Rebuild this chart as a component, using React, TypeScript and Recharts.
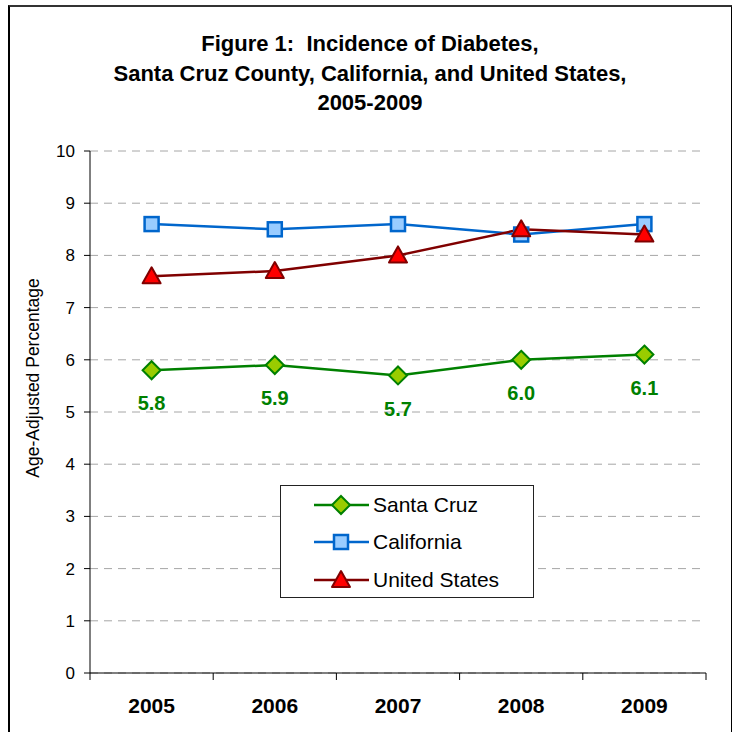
import { CartesianGrid, LabelList, Line, LineChart, XAxis, YAxis } from 'recharts';

const years = ['2005', '2006', '2007', '2008', '2009'];
const santaCruz = [5.8, 5.9, 5.7, 6.0, 6.1];
const california = [8.6, 8.5, 8.6, 8.4, 8.6];
const unitedStates = [7.6, 7.7, 8.0, 8.5, 8.4];
const yTicks = [0, 1, 2, 3, 4, 5, 6, 7, 8, 9, 10];

const data = years.map((year, i) => ({
  year,
  santaCruz: santaCruz[i],
  california: california[i],
  unitedStates: unitedStates[i],
}));

const FONT = "Arial, 'Liberation Sans', sans-serif";
const PLOT_W = 616;
const HALF = PLOT_W / years.length / 2;

const Diamond = ({ cx, cy }: any) => (
  <polygon
    points={`${cx},${cy - 9} ${cx + 9},${cy} ${cx},${cy + 9} ${cx - 9},${cy}`}
    fill="#99cc00"
    stroke="#008000"
    strokeWidth={2}
  />
);

const Square = ({ cx, cy }: any) => (
  <rect x={cx - 7} y={cy - 7} width={14} height={14} fill="#99ccff" stroke="#0066cc" strokeWidth={2.5} />
);

const Triangle = ({ cx, cy }: any) => (
  <polygon
    points={`${cx},${cy - 9} ${cx + 9},${cy + 7} ${cx - 9},${cy + 7}`}
    fill="#ff0000"
    stroke="#800000"
    strokeWidth={2}
    strokeLinejoin="round"
  />
);

const series = [
  { key: 'santaCruz', name: 'Santa Cruz', color: '#008000', Dot: Diamond },
  { key: 'california', name: 'California', color: '#0066cc', Dot: Square },
  { key: 'unitedStates', name: 'United States', color: '#800000', Dot: Triangle },
];

const YearTick = ({ x, y, payload, index }: any) => (
  <g>
    <line x1={x - HALF} x2={x - HALF} y1={y} y2={y + 7} stroke="#000" />
    {index === years.length - 1 && <line x1={x + HALF} x2={x + HALF} y1={y} y2={y + 7} stroke="#000" />}
    <text x={x} y={y + 40} textAnchor="middle" fontFamily={FONT} fontSize={21} fontWeight="bold" fill="#000">
      {payload.value}
    </text>
  </g>
);

// legend drawn outside recharts so it doesn't shrink the plot
const LegendBox = () => (
  <div
    style={{
      position: 'absolute',
      left: 280,
      top: 485,
      width: 254,
      height: 113,
      border: '1px solid #222',
      boxSizing: 'border-box',
      fontFamily: FONT,
      fontSize: 21,
      background: '#fff',
    }}
  >
    {series.map(({ name, color, Dot }) => (
      <div key={name} style={{ display: 'flex', alignItems: 'center', height: 37.5 }}>
        <svg width={92} height={24} style={{ flex: 'none' }}>
          <line x1={33} x2={88} y1={12} y2={12} stroke={color} strokeWidth={2.5} />
          <Dot cx={60} cy={12} />
        </svg>
        <span style={{ color: '#000' }}>{name}</span>
      </div>
    ))}
  </div>
);

export default function App() {
  return (
    <div style={{ position: 'absolute', left: 0, top: 0, width: 732, height: 732, overflow: 'hidden', background: '#fff' }}>
      <div
        style={{
          position: 'absolute',
          left: 8,
          top: 5,
          width: 721,
          height: 760,
          borderLeft: '2px solid #000',
          borderTop: '2px solid #333',
          borderRight: '2px solid #000',
        }}
      />
      <div
        style={{
          position: 'absolute',
          left: 8,
          top: 29,
          width: 724,
          textAlign: 'center',
          fontFamily: FONT,
          fontSize: 22,
          fontWeight: 'bold',
          lineHeight: '29.5px',
          color: '#000',
        }}
      >
        Figure 1:&nbsp; Incidence of Diabetes,
        <br />
        Santa Cruz County, California, and United States,
        <br />
        2005-2009
      </div>
      <div
        style={{
          position: 'absolute',
          left: 33,
          top: 378,
          transform: 'translate(-50%, -50%) rotate(-90deg)',
          whiteSpace: 'nowrap',
          fontFamily: FONT,
          fontSize: 17.5,
          color: '#000',
        }}
      >
        Age-Adjusted Percentage
      </div>
      <LineChart width={732} height={732} data={data} margin={{ top: 151, right: 26, bottom: 19, left: 30 }}>
        <CartesianGrid vertical={false} stroke="#a6a6a6" strokeDasharray="8 6" />
        <XAxis
          dataKey="year"
          padding={{ left: HALF, right: HALF }}
          height={40}
          tickLine={false}
          tickSize={0}
          tickMargin={0}
          axisLine={{ stroke: '#000' }}
          tick={<YearTick />}
          interval={0}
        />
        <YAxis
          domain={[0, 10]}
          ticks={yTicks}
          width={60}
          tickSize={6}
          tickMargin={9}
          axisLine={{ stroke: '#000' }}
          tickLine={{ stroke: '#000' }}
          tick={{ fill: '#000', fontSize: 17, fontFamily: FONT }}
          interval={0}
        />
        {series.map(({ key, name, color, Dot }) => (
          <Line
            key={key}
            dataKey={key}
            name={name}
            stroke={color}
            strokeWidth={2.5}
            dot={<Dot />}
            activeDot={false}
            isAnimationActive={false}
          >
            {key === 'santaCruz' && (
              <LabelList
                dataKey={key}
                position="bottom"
                offset={26}
                formatter={(v: any) => Number(v).toFixed(1)}
                style={{ fill: '#008000', fontSize: 20, fontWeight: 'bold', fontFamily: FONT }}
              />
            )}
          </Line>
        ))}
      </LineChart>
      <LegendBox />
    </div>
  );
}
